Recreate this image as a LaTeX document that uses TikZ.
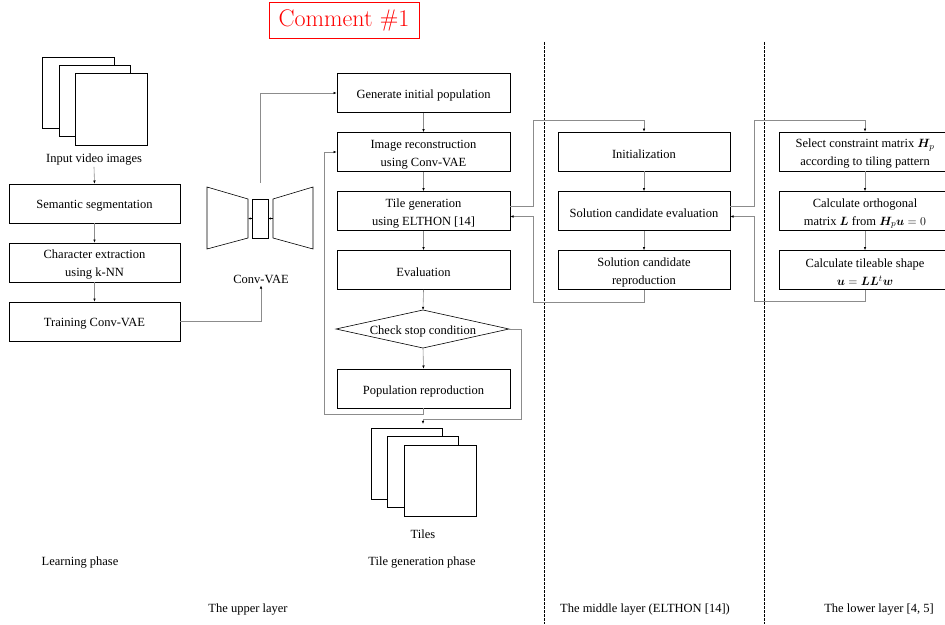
\documentclass[tikz,border=0pt]{standalone}
\usepackage{fontspec}
\usepackage{amsmath,bm}
\usetikzlibrary{arrows.meta,calc}
\newfontfamily\tnr{Liberation Serif}
\begin{document}
\begin{tikzpicture}[x=1pt,y=-1pt,
  txt/.style={font=\tnr\fontsize{12.5}{18}\selectfont, align=center, inner sep=0pt, yshift=-2pt},
  box/.style={draw=black, line width=0.6pt, minimum width=172pt, minimum height=39pt, inner sep=0pt,
     label={[txt, yshift=-0.5pt]center:#1}},
  conn/.style={draw=black!45, line width=0.6pt},
  arr/.style={conn, -{Latex[length=3.2pt,width=2.6pt,color=black]}},
  sheet/.style={draw=black, line width=0.6pt, fill=white},
  sep/.style={draw=black, line width=0.6pt, dash pattern=on 2.5pt off 1.5pt}
]
\useasboundingbox (0,0) rectangle (945,624);

% comment
\node[draw=red, line width=0.8pt, text=red, minimum width=150pt, minimum height=36pt, inner sep=0pt,
  font=\fontsize{24}{26}\selectfont] (comment) at (344,20) {Comment \#1};

% separators
\coordinate (s1t) at (544,42); \coordinate (s1b) at (544,624);
\coordinate (s2t) at (764,42); \coordinate (s2b) at (764,624);
\draw[sep] (s1t) -- (s1b);
\draw[sep] (s2t) -- (s2b);

% input images
\draw[sheet] (42,57) rectangle (114,128);
\draw[sheet] (59,65) rectangle (130,136);
\draw[sheet] (75,73) rectangle (147,145);
\node[txt] (inlab) at (94,158) {Input video images};

% learning boxes
\node[box={Semantic segmentation}, minimum width=171pt] (seg) at (94.5,203.5) {};
\node[box={Character extraction\\using k-NN}, minimum width=171pt] (chr) at (94.5,262.5) {};
\node[box={Training Conv-VAE}, minimum width=171pt] (trn) at (94.5,321.5) {};
\draw[arr] (inlab.south) ++(0,1) -- (seg.north);
\draw[arr] (seg.south) -- (chr.north);
\draw[arr] (chr.south) -- (trn.north);

% Conv-VAE shape
\node[inner sep=0pt, minimum width=106pt, minimum height=70pt] (vae) at (260,218) {};
\draw[line width=0.6pt] (207,187) -- (248,199) -- (248,238) -- (207,249) -- cycle;
\draw[line width=0.6pt] (313,187) -- (273,199) -- (273,238) -- (313,249) -- cycle;
\node[draw=black, line width=0.6pt, minimum width=16pt, minimum height=39pt, inner sep=0pt] (lat) at (260,218.5) {};
\coordinate (encR) at (248,218.5);
\coordinate (decL) at (273,218.5);
\draw[-{Latex[length=2.6pt,width=2.2pt]}, line width=0.5pt] (lat.west) -- (encR);
\draw[-{Latex[length=2.6pt,width=2.2pt]}, line width=0.5pt] (decL) -- (lat.east);
\node[txt] (vaelab) at (261,277) {Conv-VAE};
\draw[arr] (trn.east) -| ($(vaelab.south)+(0,2)$);

% upper flow
\node[box={Generate initial population}, minimum width=173pt] (gen) at (423.5,93) {};
\node[box={Image reconstruction\\using Conv-VAE}, minimum width=173pt] (rec) at (423.5,152) {};
\node[box={Tile generation\\using ELTHON [14]}, minimum width=173pt] (til) at (423.5,211) {};
\node[box={Evaluation}, minimum width=173pt] (evl) at (423.5,270) {};
\coordinate (chkT) at (423,310);
\coordinate (chkB) at (423,348);
\coordinate (chkL) at (336,329);
\coordinate (chkR) at (509,329);
\draw[line width=0.6pt] (chkT) -- (chkR) -- (chkB) -- (chkL) -- cycle;
\node[txt] (chk) at (423,329) {Check stop condition};
\node[box={Population reproduction}, minimum width=173pt] (pop) at (423.5,388.5) {};

\draw[arr] (vae.north) |- (gen.west);
\draw[arr] (gen.south) -- (rec.north);
\draw[arr] (rec.south) -- (til.north);
\draw[arr] (til.south) -- (evl.north);
\draw[arr] (evl.south) -- (chkT);
\draw[arr] (chkB) -- (pop.north);
\coordinate (loopL) at (324,414);
\draw[arr] (pop.south) |- (loopL) |- (rec.west);

% tiles
\draw[sheet] (371,428) rectangle (442,499);
\draw[sheet] (387,436) rectangle (458,507);
\draw[sheet] (404,445) rectangle (476,516);
\coordinate (tilesTop) at (423,424);
\node[txt] (tileslab) at (423,532) {Tiles};
\coordinate (loopR) at (521,419);
\draw[arr] (chkR) -| (loopR) -| (tilesTop);

% middle layer
\node[box={Initialization}] (ini) at (644,151.5) {};
\node[box={Solution candidate evaluation}] (sev) at (644,211) {};
\node[box={Solution candidate\\reproduction}] (srp) at (644,270) {};
\draw[arr] (ini.south) -- (sev.north);
\draw[arr] (sev.south) -- (srp.north);
\coordinate (m1) at (533,120);
\coordinate (m2) at (533,302);
\draw[arr] ($(til.east)+(0,-4.5)$) -| (m1) -| (ini.north);
\draw[arr] (srp.south) |- (m2) |- ($(til.east)+(0,5.5)$);

% lower layer
\node[box={Select constraint matrix $\bm{H}_p$\\according to tiling pattern}] (sel) at (865,151.5) {};
\node[box={Calculate orthogonal\\matrix $\bm{L}$ from $\bm{H}_p\bm{u}=0$}] (orth) at (865,211) {};
\node[box={Calculate tileable shape\\$\bm{u}=\bm{L}\bm{L}^t\bm{w}$}] (shp) at (865,270) {};
\draw[arr] (sel.south) -- (orth.north);
\draw[arr] (orth.south) -- (shp.north);
\coordinate (l1) at (754,120);
\coordinate (l2) at (754,301);
\draw[arr] ($(sev.east)+(0,-4.5)$) -| (l1) -| (sel.north);
\draw[arr] (shp.south) |- (l2) |- ($(sev.east)+(0,5.5)$);

% labels
\node[txt] (lp) at (80,561) {Learning phase};
\node[txt] (tp) at (422,561) {Tile generation phase};
\node[txt] (ul) at (248,608) {The upper layer};
\node[txt] (ml) at (645,608) {The middle layer (ELTHON [14])};
\node[txt] (ll) at (879,608) {The lower layer [4, 5]};
\end{tikzpicture}
\end{document}
